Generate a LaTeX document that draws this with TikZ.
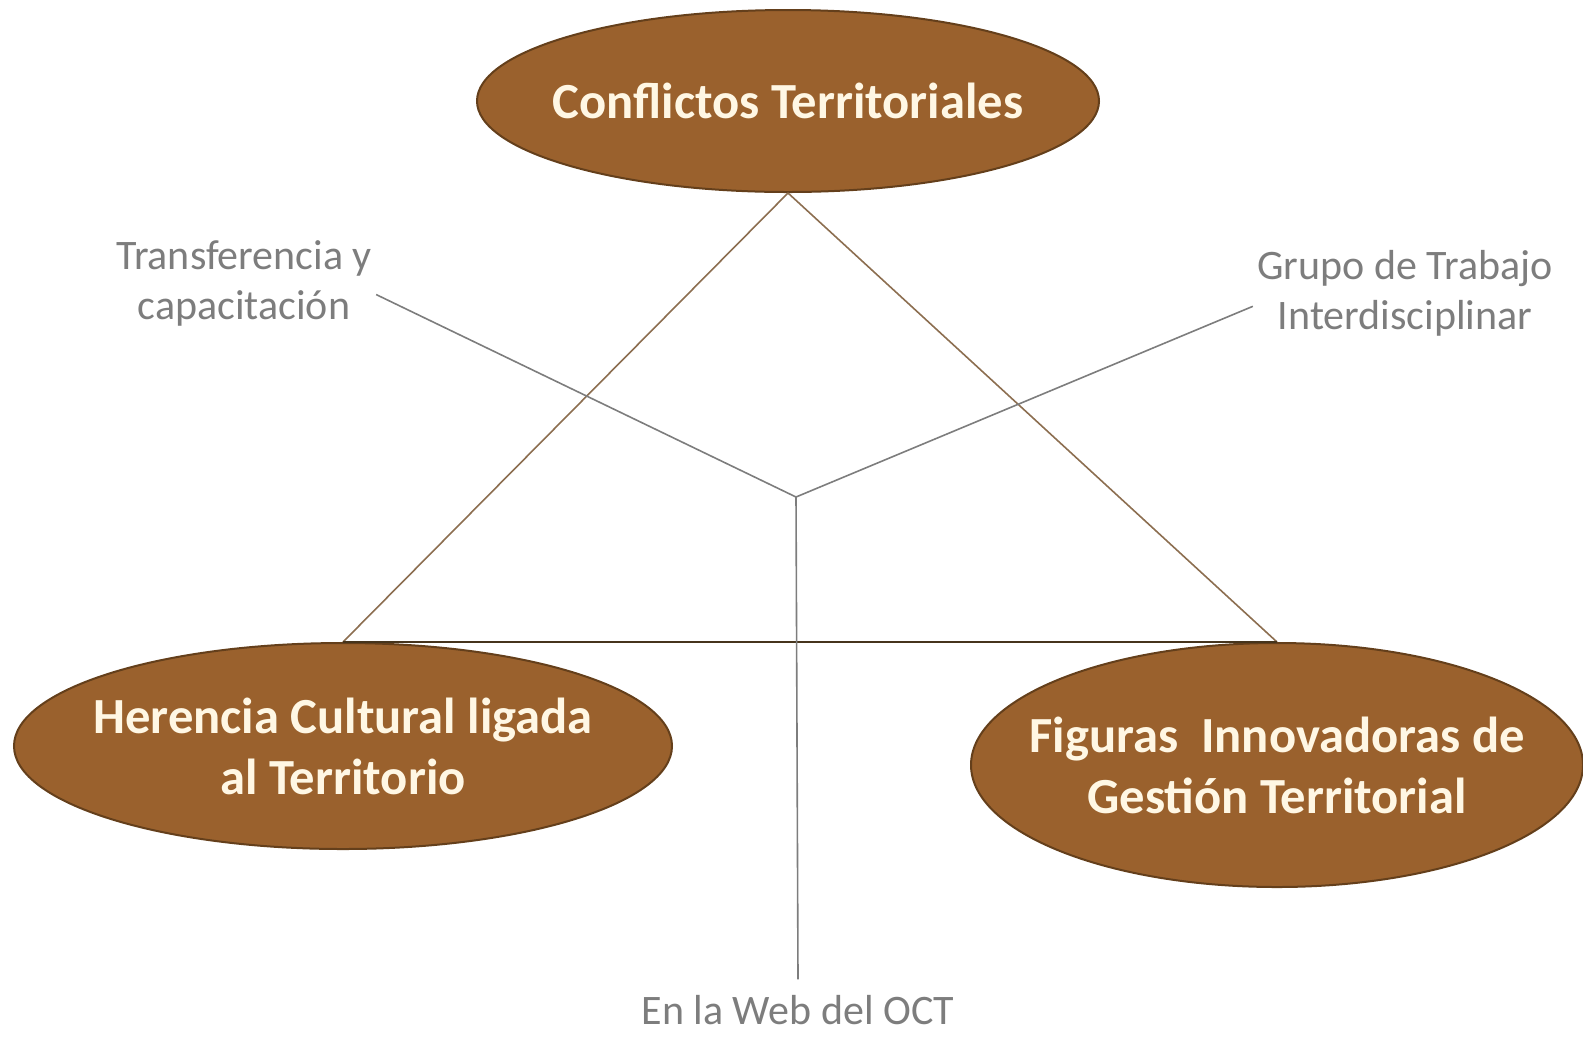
\documentclass[tikz,border=0pt]{standalone}
\usepackage{fontspec}
\setmainfont{Carlito}
\usetikzlibrary{shapes.geometric}
\definecolor{cafe}{RGB}{154,97,45}
\definecolor{cafeosc}{RGB}{100,63,27}
\definecolor{crema}{RGB}{255,247,228}
\definecolor{gris}{RGB}{125,125,125}
\definecolor{linea}{RGB}{140,110,80}
\definecolor{base}{RGB}{70,52,28}

\begin{document}
\begin{tikzpicture}[x=0.5pt,y=-0.5pt,
	eje/.style={ellipse, draw=cafeosc, line width=1pt, fill=cafe, inner xsep=-30pt, inner ysep=0pt,
		text=crema, align=center, font=\bfseries\fontsize{25.3}{30.5}\selectfont},
	etiq/.style={text=gris, align=center, inner sep=2pt, font=\fontsize{21}{25}\selectfont}]
				\useasboundingbox (0,0) rectangle (1583,1040);
				
				% the three axes
				\node[eje, minimum width=311pt, minimum height=91pt] (conf) at (788,101) {Conflictos Territoriales};
				\node[eje, minimum width=329pt, minimum height=103pt] (here) at (343,746) {Herencia Cultural ligada\\al Territorio};
				\node[eje, minimum width=306pt, minimum height=122pt] (figu) at (1277,765) {Figuras\ \ Innovadoras de\\Gesti\'on Territorial};
				
				% labels of the centre
				\node[etiq] (tran) at (244,283) {Transferencia y\\capacitaci\'on};
				\node[etiq] (grup) at (1405,293) {Grupo de Trabajo\\Interdisciplinar};
				\node[etiq, outer sep=6pt] (web) at (798,1010) {En la Web del OCT};
				\coordinate (J) at (796,497);
				
				\foreach \x/\y in
				{conf.south/here.north, conf.south/figu.north}{
					\draw[linea, line width=0.8pt] (\x)--(\y);
				}
				\draw[base, line width=1.2pt] (here.north)--(figu.north);
				
				\foreach \x in
				{tran.-5, grup.185, web.north}{
					\draw[gris, line width=0.8pt] (J)--(\x);
				}
			\end{tikzpicture}
\end{document}
